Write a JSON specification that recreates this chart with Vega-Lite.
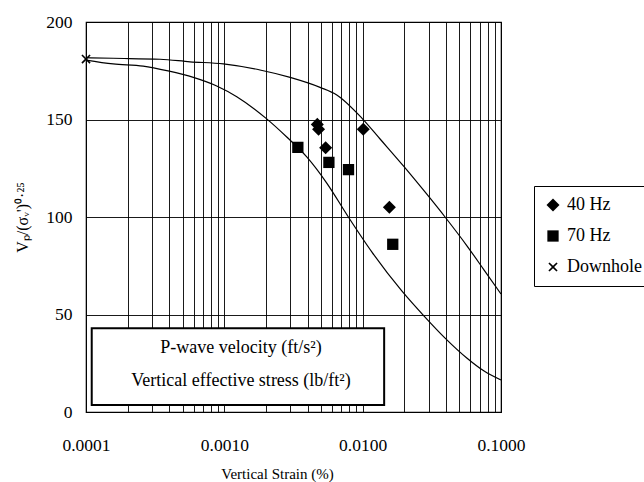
{
  "$schema": "https://vega.github.io/schema/vega-lite/v6.json",
  "width": 415,
  "height": 390,
  "autosize": "none",
  "padding": {"left": 86, "top": 22, "right": 143, "bottom": 70},
  "background": "white",
  "config": {
    "view": {"stroke": "black", "strokeWidth": 1.2},
    "font": "Liberation Serif",
    "axis": {
      "gridColor": "black",
      "gridOpacity": 1,
      "gridWidth": 0.9,
      "domain": false,
      "ticks": false,
      "labelFont": "Liberation Serif",
      "labelColor": "black",
      "titleColor": "black",
      "titleFont": "Liberation Serif",
      "titleFontWeight": "normal"
    },
    "legend": {
      "labelFont": "Liberation Serif",
      "labelColor": "black"
    }
  },
  "datasets": {
    "curves": [
      {"curve": "upper", "x": 0.0001, "y": 181.7},
      {"curve": "upper", "x": 0.000157, "y": 181.4},
      {"curve": "upper", "x": 0.000343, "y": 180.9},
      {"curve": "upper", "x": 0.000565, "y": 179.6},
      {"curve": "upper", "x": 0.000984, "y": 178.5},
      {"curve": "upper", "x": 0.00181, "y": 175.4},
      {"curve": "upper", "x": 0.00299, "y": 171.6},
      {"curve": "upper", "x": 0.00492, "y": 166.5},
      {"curve": "upper", "x": 0.0065, "y": 162.6},
      {"curve": "upper", "x": 0.0099, "y": 150.6},
      {"curve": "upper", "x": 0.01336, "y": 140},
      {"curve": "upper", "x": 0.0197, "y": 126.2},
      {"curve": "upper", "x": 0.029, "y": 111.8},
      {"curve": "upper", "x": 0.0394, "y": 100},
      {"curve": "upper", "x": 0.0569, "y": 85.1},
      {"curve": "upper", "x": 0.0755, "y": 72.8},
      {"curve": "upper", "x": 0.1, "y": 60.5},
      {"curve": "lower", "x": 0.0001, "y": 180.5},
      {"curve": "lower", "x": 0.000157, "y": 178.5},
      {"curve": "lower", "x": 0.000259, "y": 177.4},
      {"curve": "lower", "x": 0.000392, "y": 174.9},
      {"curve": "lower", "x": 0.000597, "y": 171.6},
      {"curve": "lower", "x": 0.000881, "y": 167.2},
      {"curve": "lower", "x": 0.00123, "y": 161.7},
      {"curve": "lower", "x": 0.002025, "y": 150.3},
      {"curve": "lower", "x": 0.002827, "y": 141},
      {"curve": "lower", "x": 0.003943, "y": 130.8},
      {"curve": "lower", "x": 0.005501, "y": 117.4},
      {"curve": "lower", "x": 0.007881, "y": 100},
      {"curve": "lower", "x": 0.01164, "y": 82.1},
      {"curve": "lower", "x": 0.01918, "y": 62.1},
      {"curve": "lower", "x": 0.0278, "y": 49.2},
      {"curve": "lower", "x": 0.03943, "y": 37.9},
      {"curve": "lower", "x": 0.05657, "y": 27.7},
      {"curve": "lower", "x": 0.07547, "y": 21},
      {"curve": "lower", "x": 0.1, "y": 16.4}
    ],
    "points": [
      {"series": "40 Hz", "x": 0.0047, "y": 147.5},
      {"series": "40 Hz", "x": 0.0048, "y": 145},
      {"series": "40 Hz", "x": 0.0054, "y": 135.5},
      {"series": "40 Hz", "x": 0.0101, "y": 145},
      {"series": "40 Hz", "x": 0.0156, "y": 105},
      {"series": "70 Hz", "x": 0.0034, "y": 135.7},
      {"series": "70 Hz", "x": 0.0057, "y": 128},
      {"series": "70 Hz", "x": 0.0079, "y": 124.3},
      {"series": "70 Hz", "x": 0.0165, "y": 86},
      {"series": "Downhole", "x": 0.0001, "y": 181}
    ],
    "box": [
      {"x": 0.00011, "x2": 0.0143, "y": 3.6, "y2": 43}
    ],
    "notes": [
      {"x": 0.00132, "y": 32.8, "text": "P-wave velocity (ft/s²)"},
      {"x": 0.00132, "y": 15.9, "text": "Vertical effective stress (lb/ft²)"}
    ]
  },
  "layer": [
    {
      "data": {"name": "curves"},
      "mark": {"type": "line", "color": "black", "strokeWidth": 1.2, "interpolate": "monotone"},
      "encoding": {
        "x": {
          "field": "x",
          "type": "quantitative",
          "scale": {"type": "log", "domain": [0.0001, 0.1]},
          "axis": {
            "values": [0.0001, 0.0002, 0.0003, 0.0004, 0.0005, 0.0006, 0.0007, 0.0008, 0.0009,
                       0.001, 0.002, 0.003, 0.004, 0.005, 0.006, 0.007, 0.008, 0.009,
                       0.01, 0.02, 0.03, 0.04, 0.05, 0.06, 0.07, 0.08, 0.09, 0.1],
            "labelExpr": "abs(log(datum.value)/LN10 - round(log(datum.value)/LN10)) < 0.000001 ? format(datum.value, '.4f') : ''",
            "labelFont": "Liberation Serif",
            "labelFontSize": 17.5,
            "labelPadding": 24,
            "labelOverlap": false,
            "labelFlush": false,
            "labelBound": false,
            "title": "Vertical Strain (%)",
            "titleFont": "Liberation Serif",
            "titleFontSize": 15,
            "titleX": 191,
            "titleY": 66,
            "titleBaseline": "alphabetic",
            "titleAlign": "center"
          }
        },
        "y": {
          "field": "y",
          "type": "quantitative",
          "scale": {"domain": [0, 200], "nice": false},
          "axis": {
            "values": [0, 50, 100, 150, 200],
            "labelFont": "Liberation Serif",
            "labelFontSize": 17.5,
            "labelPadding": 14,
            "title": "Vₚ/(σᵥ')⁰·²⁵",
            "titleFont": "Liberation Serif",
            "titleFontSize": 16,
            "titleX": -64,
            "titleY": 195,
            "titleAngle": -90,
            "titleAlign": "center",
            "titleBaseline": "middle"
          }
        },
        "detail": {"field": "curve", "type": "nominal"}
      }
    },
    {
      "data": {"name": "points"},
      "mark": {"type": "point", "filled": true, "color": "black", "opacity": 1},
      "encoding": {
        "x": {"field": "x", "type": "quantitative"},
        "y": {"field": "y", "type": "quantitative"},
        "size": {
          "field": "series",
          "type": "nominal",
          "scale": {"domain": ["40 Hz", "70 Hz", "Downhole"], "range": [170, 85, 110]},
          "legend": {
            "title": null,
            "orient": "none",
            "legendX": 448,
            "legendY": 164,
            "strokeColor": "black",
            "fillColor": "white",
            "padding": 10,
            "labelFont": "Liberation Serif",
            "labelFontSize": 18,
            "rowPadding": 13,
            "symbolFillColor": "black",
            "symbolStrokeWidth": 0,
            "labelOffset": 5
          }
        },
        "shape": {
          "field": "series",
          "type": "nominal",
          "scale": {
            "domain": ["40 Hz", "70 Hz", "Downhole"],
            "range": ["diamond", "square", "M-1,-0.75L-0.75,-1L0,-0.25L0.75,-1L1,-0.75L0.25,0L1,0.75L0.75,1L0,0.25L-0.75,1L-1,0.75L-0.25,0Z"]
          },
          "legend": {
            "title": null,
            "orient": "none",
            "legendX": 448,
            "legendY": 164,
            "strokeColor": "black",
            "fillColor": "white",
            "padding": 10,
            "labelFont": "Liberation Serif",
            "labelFontSize": 18,
            "rowPadding": 13,
            "symbolFillColor": "black",
            "symbolStrokeWidth": 0,
            "labelOffset": 5
          }
        }
      }
    },
    {
      "data": {"name": "box"},
      "mark": {"type": "rect", "fill": "white", "stroke": "black", "strokeWidth": 2},
      "encoding": {
        "x": {"field": "x", "type": "quantitative"},
        "x2": {"field": "x2"},
        "y": {"field": "y", "type": "quantitative"},
        "y2": {"field": "y2"}
      }
    },
    {
      "data": {"name": "notes"},
      "mark": {"type": "text", "font": "Liberation Serif", "fontSize": 18, "color": "black", "align": "center", "baseline": "middle"},
      "encoding": {
        "x": {"field": "x", "type": "quantitative"},
        "y": {"field": "y", "type": "quantitative"},
        "text": {"field": "text"}
      }
    }
  ]
}
